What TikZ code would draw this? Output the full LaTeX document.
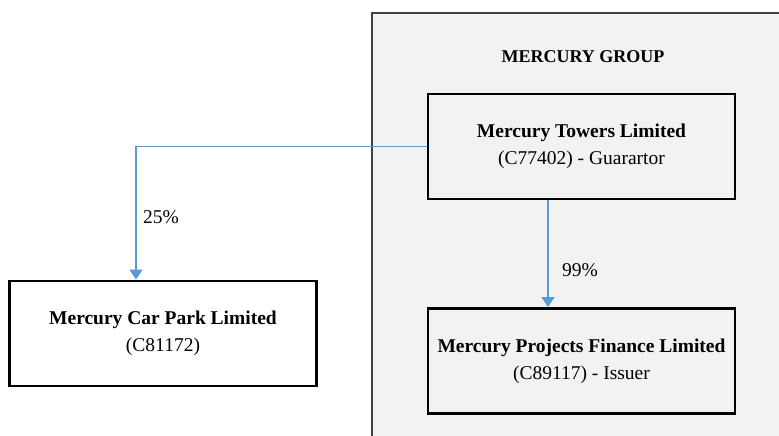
\documentclass[tikz,border=0pt]{standalone}
\usepackage{fontspec}
\setmainfont{Liberation Serif}
\usepackage{xcolor}
\usepackage{tikz}
\usetikzlibrary{arrows.meta}
\usetikzlibrary{positioning}
\definecolor{groupgray}{HTML}{F2F2F2}
\definecolor{linkblue}{HTML}{5B9BD5}
\begin{document}
\begin{tikzpicture} [x=1pt, y=-1pt,
                company/.style = {draw, line width=2.8pt, minimum width=307pt, minimum height=105pt, align=center, font=\fontsize{19.5}{27}\selectfont},
                owns/.style = {-{Triangle[width=13pt,length=10pt]}, draw=linkblue, line width=1.4pt},
                share/.style = {font=\fontsize{19.5}{22}\selectfont}
            ]
            \useasboundingbox (0,0) rectangle (779,436);
            \fill[white] (0,0) rectangle (779,436);
            \draw[fill=groupgray, draw=black!75, line width=1.5pt] (372,13) rectangle (790,450);
            \node (group) at (583,57) [font=\bfseries\fontsize{18}{20}\selectfont] {MERCURY GROUP};
            \node (towers) at (581.5,146.5) [company, fill=groupgray] {\textbf{Mercury Towers Limited}\\(C77402) - Guarartor};
            \node (projects) at (581.5,361) [company, fill=groupgray] {\textbf{Mercury Projects Finance Limited}\\(C89117) - Issuer};
            \node (carpark) at (163,333.5) [company, fill=white] {\textbf{Mercury Car Park Limited}\\(C81172)};
            \draw [owns] (towers.west) -| ([xshift=-27pt] carpark.north) node[pos=0.765, right=3pt, share] {25\%};
            \draw [owns] ([xshift=-33.5pt] towers.south) -- ([xshift=-33.5pt] projects.north) node[pos=0.65, right=10pt, share] {99\%};
        \end{tikzpicture}
\end{document}
